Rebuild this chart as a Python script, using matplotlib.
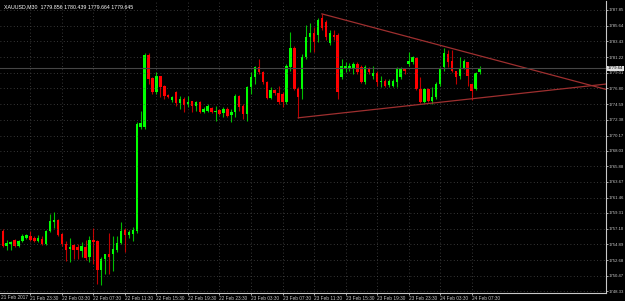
import matplotlib
matplotlib.use('Agg')
import matplotlib.pyplot as plt

# XAUUSD M30 candles (open, high, low, close)
opens = [1756.82, 1754.59, 1754.87, 1755.57, 1754.59, 1755.29, 1755.84, 1756.12, 1755.84, 1755.43,
         1755.70, 1754.87, 1756.82, 1758.07, 1758.35, 1756.40, 1754.87, 1754.17, 1754.73, 1754.45,
         1753.90, 1754.45, 1753.06, 1755.57, 1755.43, 1751.25, 1752.78, 1753.48, 1753.48, 1754.03,
         1755.01, 1756.96, 1756.26, 1756.40, 1756.82, 1771.43, 1771.43, 1781.45, 1778.25, 1776.30,
         1778.53, 1777.13, 1775.88, 1775.19, 1776.30, 1774.77, 1775.33, 1774.63, 1775.05, 1774.35,
         1774.91, 1773.52, 1773.66, 1774.07, 1773.52, 1773.79, 1773.38, 1773.93, 1773.10, 1773.52,
         1775.74, 1774.35, 1773.24, 1777.00, 1778.39, 1779.78, 1779.08, 1777.69, 1775.46, 1776.58,
         1776.16, 1776.02, 1774.91, 1779.78, 1782.56, 1776.72, 1776.72, 1781.17, 1784.09, 1784.65,
         1784.37, 1786.74, 1786.18, 1783.26, 1784.37, 1784.37, 1778.39, 1779.50, 1779.64, 1779.50,
         1780.20, 1779.78, 1777.69, 1779.64, 1778.53, 1778.94, 1777.69, 1777.83, 1777.27, 1777.13,
         1777.69, 1778.39, 1779.64, 1780.20, 1780.47, 1781.03, 1776.72, 1774.91, 1776.72, 1775.05,
         1775.60, 1777.41, 1779.78, 1781.59, 1780.61, 1779.22, 1778.53, 1779.64, 1780.47, 1777.41,
         1776.72, 1779.08]
highs = [1757.10, 1755.57, 1755.43, 1755.70, 1755.57, 1756.40, 1756.40, 1756.82, 1756.12, 1756.26,
         1756.12, 1756.96, 1759.18, 1759.46, 1758.49, 1756.54, 1755.29, 1755.84, 1754.87, 1754.87,
         1755.15, 1755.57, 1756.12, 1757.24, 1755.57, 1753.06, 1753.48, 1756.54, 1756.12, 1756.12,
         1758.07, 1757.24, 1756.96, 1757.37, 1772.12, 1773.66, 1781.73, 1781.73, 1778.39, 1779.08,
         1778.53, 1777.27, 1776.02, 1775.74, 1776.44, 1775.74, 1775.60, 1775.74, 1775.05, 1775.05,
         1775.05, 1774.21, 1774.63, 1774.21, 1774.35, 1773.93, 1774.21, 1774.21, 1773.93, 1776.02,
         1775.88, 1774.63, 1777.13, 1779.08, 1779.92, 1780.89, 1779.22, 1777.83, 1777.00, 1776.72,
         1777.13, 1776.30, 1780.20, 1784.79, 1782.84, 1777.00, 1781.59, 1785.76, 1786.04, 1785.48,
         1786.74, 1787.29, 1786.46, 1785.07, 1785.07, 1784.65, 1780.89, 1780.47, 1780.33, 1780.47,
         1780.47, 1780.06, 1780.06, 1779.78, 1779.92, 1779.22, 1778.53, 1778.11, 1778.11, 1778.11,
         1779.78, 1779.78, 1779.64, 1781.87, 1781.31, 1781.17, 1778.39, 1776.86, 1776.86, 1777.00,
         1777.69, 1779.78, 1782.56, 1782.28, 1782.28, 1779.22, 1781.17, 1780.89, 1780.47, 1777.41,
         1779.08, 1779.92]
lows = [1754.45, 1754.03, 1754.03, 1754.45, 1754.45, 1755.15, 1755.70, 1755.43, 1755.15, 1755.15,
        1754.73, 1754.73, 1756.68, 1757.24, 1756.12, 1754.59, 1752.50, 1752.36, 1752.78, 1752.78,
        1753.06, 1752.64, 1752.36, 1752.09, 1749.30, 1749.17, 1750.70, 1750.70, 1751.11, 1753.76,
        1754.87, 1753.76, 1755.84, 1755.43, 1756.54, 1771.15, 1771.15, 1777.41, 1776.02, 1776.02,
        1775.60, 1775.33, 1775.46, 1774.91, 1774.35, 1773.93, 1773.52, 1774.21, 1773.52, 1773.66,
        1773.38, 1773.38, 1773.52, 1773.38, 1772.26, 1773.10, 1772.82, 1772.82, 1772.12, 1772.82,
        1773.66, 1772.54, 1772.26, 1776.02, 1777.41, 1778.80, 1777.41, 1775.33, 1775.33, 1775.88,
        1774.63, 1774.21, 1774.63, 1779.22, 1776.58, 1772.68, 1775.33, 1780.89, 1782.00, 1782.00,
        1783.40, 1785.07, 1783.67, 1782.98, 1783.67, 1775.33, 1778.11, 1779.08, 1779.22, 1778.80,
        1778.80, 1777.55, 1777.41, 1778.80, 1778.11, 1777.13, 1777.00, 1777.00, 1777.00, 1777.00,
        1777.00, 1778.11, 1778.80, 1779.92, 1780.20, 1776.58, 1774.77, 1774.77, 1774.91, 1774.63,
        1775.33, 1777.13, 1779.22, 1779.78, 1779.08, 1777.41, 1778.11, 1779.50, 1777.13, 1775.19,
        1776.58, 1778.80]
closes = [1754.59, 1755.01, 1755.15, 1754.59, 1755.43, 1756.12, 1756.26, 1755.57, 1755.43, 1755.84,
          1754.87, 1756.82, 1758.21, 1758.35, 1756.26, 1754.87, 1754.03, 1754.45, 1754.03, 1754.03,
          1754.59, 1752.92, 1755.57, 1755.15, 1751.25, 1752.78, 1753.48, 1753.06, 1754.17, 1755.01,
          1756.82, 1756.26, 1756.68, 1756.96, 1771.85, 1771.99, 1781.45, 1778.11, 1776.30, 1778.53,
          1777.00, 1775.74, 1775.60, 1775.60, 1774.77, 1775.33, 1774.49, 1774.91, 1774.35, 1774.91,
          1773.52, 1773.93, 1774.35, 1773.52, 1773.66, 1773.24, 1773.93, 1772.96, 1773.52, 1775.74,
          1774.21, 1773.24, 1777.00, 1778.39, 1779.78, 1779.08, 1777.69, 1775.46, 1776.58, 1776.16,
          1774.91, 1774.91, 1779.92, 1782.56, 1776.72, 1775.60, 1781.17, 1784.09, 1784.65, 1783.40,
          1786.46, 1785.34, 1784.09, 1784.65, 1784.09, 1776.30, 1779.92, 1779.92, 1779.92, 1780.20,
          1779.08, 1777.69, 1779.78, 1779.08, 1778.94, 1777.69, 1777.83, 1777.13, 1777.83, 1777.83,
          1779.64, 1779.64, 1779.22, 1780.61, 1781.17, 1776.72, 1774.91, 1776.72, 1775.05, 1775.60,
          1777.41, 1779.50, 1781.73, 1780.47, 1779.22, 1778.39, 1779.64, 1780.61, 1778.53, 1776.44,
          1778.94, 1779.645]

price_ticks = [1787.85, 1785.64, 1783.43, 1781.22, 1779.01, 1776.80, 1774.59, 1772.38, 1770.17,
               1768.03, 1765.88, 1763.67, 1761.46, 1759.31, 1757.10, 1754.89, 1752.68, 1750.47, 1748.33]
time_ticks = [7, 15, 23, 31, 39, 47, 55, 63, 71, 79, 87, 95, 103, 111, 119]
time_labels = ['21 Feb 23:30', '22 Feb 03:30', '22 Feb 07:30', '22 Feb 11:30', '22 Feb 15:30',
               '22 Feb 19:30', '22 Feb 23:30', '23 Feb 03:30', '23 Feb 07:30', '23 Feb 11:30',
               '23 Feb 15:30', '23 Feb 19:30', '23 Feb 23:30', '24 Feb 03:30', '24 Feb 07:30']
first_label = '21 Feb 2017'
header = 'XAUUSD,M30  1779.856 1780.439 1779.664 1779.645'
bid = 1779.645

# triangle trendlines (bar index, price)
upper_line = ([81, 153.2], [1787.29, 1776.66])
lower_line = ([75, 153.2], [1772.68, 1777.43])

bull = '#00ff00'
bear = '#ff0000'
fg = '#c8c8c8'
small = dict(family=['Liberation Sans', 'DejaVu Sans'], size=3.4)
ysmall = dict(family=['Liberation Sans', 'DejaVu Sans'], size=3.1)

fig = plt.figure(figsize=(6.25, 3.01), dpi=100, facecolor='black')
ax = fig.add_axes([0, 8/301., 606/625., 292/301.], facecolor='black')

for n, (o, h, l, c) in enumerate(zip(opens, highs, lows, closes)):
  col = bull if c >= o else bear
  ax.vlines(n, l, h, color=col, lw=0.8, alpha=0.75)
  lo, hi = min(o, c), max(o, c)
  if hi - lo < 0.12:
    hi = lo + 0.12
  ax.bar(n, hi - lo, bottom=lo, width=0.62, color=col, linewidth=0)

ax.plot(*upper_line, color='#9e2f2f', lw=0.9)
ax.plot(*lower_line, color='#9e2f2f', lw=0.9)
ax.axhline(bid, color='#454545', lw=0.8)

ax.set_xlim(-0.7, 153.1)
ax.set_ylim(1748.05, 1789.10)

ax.set_yticks(price_ticks)
ax.set_yticklabels(['%.2f' % p for p in price_ticks], fontdict=ysmall)
ax.yaxis.tick_right()
ax.set_xticks(time_ticks)
ax.set_xticklabels(time_labels, ha='left', fontdict=small)
ax.tick_params(colors=fg, length=1.5, width=0.6, pad=0.3)
ax.tick_params(axis='y', length=1.2, pad=0.5)
ax.text(0.001, -0.007, first_label, transform=ax.transAxes, color=fg, va='top', fontdict=small)

ax.grid(True, color='#4a4a4a', linestyle=(0, (1, 3)), linewidth=0.6)
for side in ('top', 'left'):
  ax.spines[side].set_visible(False)
for side in ('right', 'bottom'):
  ax.spines[side].set_color(fg)
  ax.spines[side].set_linewidth(0.8)

ax.text(1.003, bid, '%.2f' % bid, transform=ax.get_yaxis_transform(), fontdict=ysmall,
        color='black', va='center', ha='left',
        bbox=dict(boxstyle='square,pad=0.1', facecolor='#e0e0e0', edgecolor='none'))

fig.text(4/625., 1 - 4/301., header, color='white', va='top', ha='left',
         fontdict=dict(family=['Liberation Sans', 'DejaVu Sans'], size=3.8))

fig.savefig('out.png', dpi=100, facecolor='black')
